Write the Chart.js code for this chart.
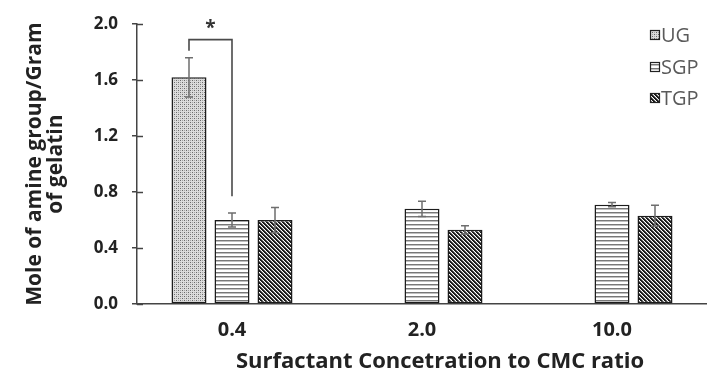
<!DOCTYPE html>
<html>
<head>
<meta charset="utf-8">
<script src="https://cdn.jsdelivr.net/npm/chart.js@4.4.1/dist/chart.umd.min.js"></script>
<style>
html,body{margin:0;padding:0;background:#ffffff;overflow:hidden}
#wrap{position:relative;width:707px;height:378px}
</style>
</head>
<body>
<div id="wrap"><canvas id="c" width="707" height="378"></canvas></div>
<script>
// ---- data ----
const categories = ['0.4', '2.0', '10.0'];
const seriesNames = ['UG', 'SGP', 'TGP'];
const ugValues  = [1.62, null, null];
const ugErrors  = [0.14, null, null];
const sgpValues = [0.60, 0.68, 0.71];
const sgpErrors = [0.05, 0.055, 0.015];
const tgpValues = [0.60, 0.53, 0.63];
const tgpErrors = [0.09, 0.03, 0.075];
const yTicks = [0.0, 0.4, 0.8, 1.2, 1.6, 2.0];
const yTitleLines = ['Mole of amine group/Gram', 'of gelatin'];
const xTitle = 'Surfactant Concetration to CMC ratio';
// significance bracket between UG and SGP at category 0.4: [left leg bottom, top, right leg bottom]
const bracketValues = [1.81, 1.89, 0.77];
const bracketLabel = '*';

// ---- fill patterns ----
function makePattern(kind) {
  const c = document.createElement('canvas');
  c.width = 4; c.height = 4;
  const g = c.getContext('2d');
  g.fillStyle = '#ffffff';
  g.fillRect(0, 0, 4, 4);
  if (kind === 'dots') {
    g.fillStyle = '#dcdcdc'; g.fillRect(0, 0, 4, 4);
    g.fillStyle = '#6a6a6a'; g.fillRect(0, 0, 1, 1); g.fillRect(2, 2, 1, 1);
    g.fillStyle = '#a4a4a4'; g.fillRect(2, 0, 1, 1); g.fillRect(0, 2, 1, 1);
  } else if (kind === 'hlines') {
    g.fillStyle = '#777777'; g.fillRect(0, 0, 4, 1);
    g.fillStyle = '#c0c0c0'; g.fillRect(0, 1, 4, 1);
  } else if (kind === 'diag') {
    for (let x = 0; x < 4; x++) {
      for (let y = 0; y < 4; y++) {
        const k = ((x - y) % 4 + 4) % 4;
        g.fillStyle = k === 0 || k === 1 ? '#1a1a1a' : (k === 2 ? '#7a7a7a' : '#ffffff');
        g.fillRect(x, y, 1, 1);
      }
    }
  }
  const ctx = document.getElementById('c').getContext('2d');
  return ctx.createPattern(c, 'repeat');
}
const patterns = [makePattern('dots'), makePattern('hlines'), makePattern('diag')];
const errorSets = [ugErrors, sgpErrors, tgpErrors];

const FONT = '"Open Sans", Lato, sans-serif';
const TEXT = '#222222';

const errorBarPlugin = {
  id: 'errorBars',
  afterDatasetsDraw(chart) {
    const { ctx } = chart;
    const yScale = chart.scales.y;
    ctx.save();
    ctx.strokeStyle = '#6e6e6e';
    ctx.lineWidth = 1.5;
    chart.data.datasets.forEach((ds, di) => {
      const meta = chart.getDatasetMeta(di);
      const errs = errorSets[di];
      meta.data.forEach((bar, i) => {
        const v = ds.data[i];
        const e = errs[i];
        if (v == null || e == null) return;
        const x = bar.x;
        const yTop = yScale.getPixelForValue(v + e);
        const yBot = yScale.getPixelForValue(v - e);
        ctx.beginPath();
        ctx.moveTo(x, yTop); ctx.lineTo(x, yBot);
        ctx.moveTo(x - 4, yTop); ctx.lineTo(x + 4, yTop);
        ctx.moveTo(x - 4, yBot); ctx.lineTo(x + 4, yBot);
        ctx.stroke();
      });
    });
    ctx.restore();
  }
};

const annotationPlugin = {
  id: 'extras',
  afterDraw(chart) {
    const { ctx } = chart;
    const yScale = chart.scales.y;
    ctx.save();
    // inner tick marks on y axis
    ctx.strokeStyle = '#444';
    ctx.lineWidth = 1.5;
    const ax = chart.chartArea.left;
    yTicks.forEach(v => {
      const y = Math.round(yScale.getPixelForValue(v)) + 0.5;
      ctx.beginPath(); ctx.moveTo(ax, y); ctx.lineTo(ax + 6, y); ctx.stroke();
    });
    // significance bracket
    const x1 = chart.getDatasetMeta(0).data[0].x;
    const x2 = chart.getDatasetMeta(1).data[0].x;
    const yL = yScale.getPixelForValue(bracketValues[0]);
    const yT = yScale.getPixelForValue(bracketValues[1]);
    const yR = yScale.getPixelForValue(bracketValues[2]);
    ctx.strokeStyle = '#4a4a4a';
    ctx.lineWidth = 1.6;
    ctx.beginPath();
    ctx.moveTo(x1, yL); ctx.lineTo(x1, yT); ctx.lineTo(x2, yT); ctx.lineTo(x2, yR);
    ctx.stroke();
    ctx.fillStyle = '#333';
    ctx.font = 'bold 19px ' + FONT;
    ctx.textAlign = 'center';
    ctx.textBaseline = 'middle';
    ctx.fillText(bracketLabel, (x1 + x2) / 2, yT - 11);
    // x-axis title
    ctx.fillStyle = TEXT;
    ctx.font = 'bold 22px ' + FONT;
    ctx.fillText(xTitle, 440, 362);
    // legend
    const rows = [35, 67, 98];
    ctx.font = '20px ' + FONT;
    ctx.textAlign = 'left';
    seriesNames.forEach((name, i) => {
      const cy = rows[i];
      ctx.fillStyle = patterns[i];
      ctx.fillRect(650, cy - 5, 10, 10);
      ctx.strokeStyle = '#222';
      ctx.lineWidth = 1.2;
      ctx.strokeRect(650.5, cy - 4.5, 9, 9);
      ctx.fillStyle = '#5a5a5a';
      ctx.fillText(name, 661, cy + 1);
    });
    ctx.restore();
  }
};

const datasets = [ugValues, sgpValues, tgpValues].map((vals, i) => ({
  label: seriesNames[i],
  data: vals,
  backgroundColor: patterns[i],
  borderColor: '#1c1c1c',
  borderWidth: 1.5,
  borderSkipped: false,
  categoryPercentage: 0.679,
  barPercentage: 0.814
}));

new Chart(document.getElementById('c'), {
  type: 'bar',
  data: { labels: categories, datasets },
  options: {
    responsive: false,
    animation: false,
    devicePixelRatio: 1,
    layout: { padding: { left: 0, top: 16, right: 0, bottom: 0 } },
    plugins: { legend: { display: false }, tooltip: { enabled: false } },
    scales: {
      x: {
        offset: true,
        grid: { display: true, drawOnChartArea: false, drawTicks: false },
        border: { display: true, color: '#444', width: 1.5 },
        ticks: { font: { family: FONT, size: 20, weight: 'bold' }, color: TEXT, padding: 14 },
        afterFit(s) { s.height = 74; }
      },
      y: {
        min: 0, max: 2,
        afterBuildTicks(s) { s.ticks = yTicks.map(v => ({ value: v })); },
        ticks: {
          callback: v => Number(v).toFixed(1),
          font: { family: FONT, size: 17, weight: 'bold' }, color: TEXT, padding: 14
        },
        grid: { drawOnChartArea: false, drawTicks: true, tickLength: 5, color: '#444', lineWidth: 1.5 },
        border: { display: true, color: '#444', width: 1.5 },
        title: {
          display: true, text: yTitleLines, color: TEXT,
          font: { family: FONT, size: 21, weight: 'bold', lineHeight: 1 },
          padding: { top: 25, bottom: 0 }
        },
        afterFit(s) { s.width = 137; }
      }
    }
  },
  plugins: [errorBarPlugin, annotationPlugin]
});
</script>
</body>
</html>
